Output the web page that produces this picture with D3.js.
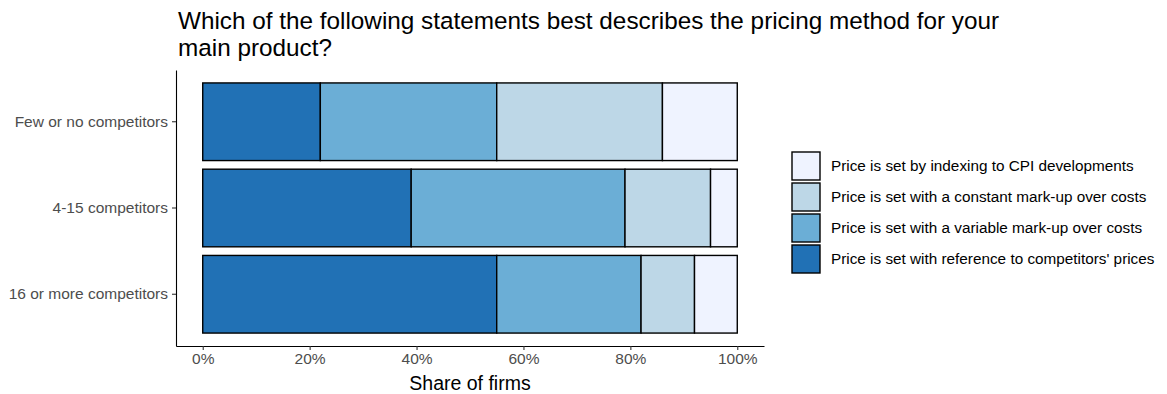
<!DOCTYPE html>
<html>
<head>
<meta charset="utf-8">
<script src="https://cdn.jsdelivr.net/npm/d3@7"></script>
<style>
  body { margin: 0; background: #fff; }
  svg { font-family: "Liberation Sans", Arial, sans-serif; }
</style>
</head>
<body>
<svg id="chart" width="1167" height="394"></svg>
<script>
// Competition groups (top to bottom)
const categories = ["Few or no competitors", "4-15 competitors", "16 or more competitors"];

// Pricing methods, in stacking order from the left
const methods = [
  "Price is set with reference to competitors' prices",
  "Price is set with a variable mark-up over costs",
  "Price is set with a constant mark-up over costs",
  "Price is set by indexing to CPI developments"
];

// Share of firms (%) per method, one value per category
const competitorsPrices = [22, 39, 55];
const variableMarkup    = [33, 40, 27];
const constantMarkup    = [31, 16, 10];
const cpiIndexing       = [14, 5, 8];

const xTicks = [0, 20, 40, 60, 80, 100];
const colors = ["#2171b5", "#6baed6", "#bdd7e7", "#eff3ff"];

const series = [competitorsPrices, variableMarkup, constantMarkup, cpiIndexing];
const rows = categories.map((c, i) => {
  const r = { category: c };
  methods.forEach((m, j) => { r[m] = series[j][i]; });
  return r;
});
const stacked = d3.stack().keys(methods)(rows);

const svg = d3.select("#chart");
const plot = { left: 176, right: 764, top: 70, bottom: 346 };

const x = d3.scaleLinear().domain([-5, 105]).range([plot.left, plot.right]);
const y = d3.scaleBand().domain(categories).range([plot.top, plot.bottom])
  .paddingInner(0.1).paddingOuter(0.15);

const color = d3.scaleOrdinal().domain(methods).range(colors);

// Bars
svg.append("g").selectAll("g").data(stacked).join("g")
  .attr("fill", d => color(d.key))
  .selectAll("rect").data(d => d).join("rect")
  .attr("x", d => x(d[0]))
  .attr("y", d => y(d.data.category))
  .attr("width", d => x(d[1]) - x(d[0]))
  .attr("height", y.bandwidth())
  .attr("stroke", "#000")
  .attr("stroke-width", 1.4);

const tickFont = 15.5;

// X axis
const xAxis = svg.append("g")
  .attr("transform", `translate(0,${plot.bottom})`)
  .call(d3.axisBottom(x).tickValues(xTicks).tickFormat(d => d + "%").tickSize(4).tickSizeOuter(0));
xAxis.select(".domain").attr("stroke", "#000").attr("stroke-width", 1.1);
xAxis.selectAll(".tick line").attr("stroke", "#333").attr("stroke-width", 1.1);
xAxis.selectAll(".tick text").attr("fill", "#4d4d4d").attr("font-size", tickFont)
  .attr("y", 6).attr("dy", "0.8em").attr("font-family", "Liberation Sans, Arial, sans-serif");

// Y axis
const yAxis = svg.append("g")
  .attr("transform", `translate(${plot.left},0)`)
  .call(d3.axisLeft(y).tickSize(4).tickSizeOuter(0));
yAxis.select(".domain").attr("stroke", "#000").attr("stroke-width", 1.1);
yAxis.selectAll(".tick line").attr("stroke", "#333").attr("stroke-width", 1.1);
yAxis.selectAll(".tick text").attr("fill", "#4d4d4d").attr("font-size", tickFont)
  .attr("x", -8).attr("font-family", "Liberation Sans, Arial, sans-serif");

// Axis title
svg.append("text")
  .attr("x", (plot.left + plot.right) / 2)
  .attr("y", 390)
  .attr("text-anchor", "middle")
  .attr("font-size", 19.5)
  .attr("fill", "#000")
  .text("Share of firms");

// Title
const title = svg.append("text").attr("font-size", 24.3).attr("fill", "#000");
title.append("tspan").attr("x", 178).attr("y", 29)
  .text("Which of the following statements best describes the pricing method for your");
title.append("tspan").attr("x", 178).attr("y", 56).text("main product?");

// Legend (lightest first)
const legendItems = methods.slice().reverse();
const legend = svg.append("g").attr("transform", "translate(792,152)");
const item = legend.selectAll("g").data(legendItems).join("g")
  .attr("transform", (d, i) => `translate(0,${i * 31})`);
item.append("rect")
  .attr("width", 28).attr("height", 28)
  .attr("fill", d => color(d))
  .attr("stroke", "#000").attr("stroke-width", 1.4);
item.append("text")
  .attr("x", 39).attr("y", 14).attr("dy", "0.35em")
  .attr("font-size", 15.3).attr("fill", "#000")
  .text(d => d);
</script>
</body>
</html>
